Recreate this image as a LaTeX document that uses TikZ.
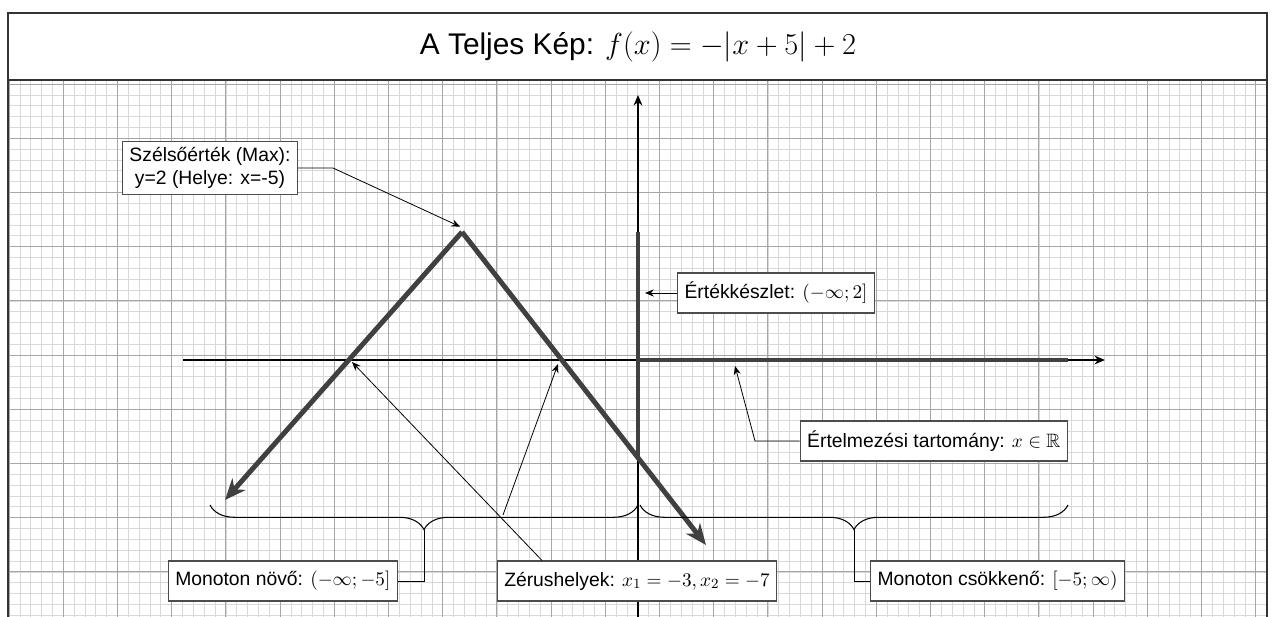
\documentclass[tikz,border=0pt]{standalone}
\usepackage{fontspec}
\setmainfont{Liberation Sans}
\usepackage{amssymb}
\usetikzlibrary{arrows.meta}
\usetikzlibrary{decorations.pathreplacing}

\begin{document}
\begin{tikzpicture}[x=0.02cm,y=-0.02cm,
   label box/.style={draw=black!70,fill=white,line width=0.6pt,inner xsep=4pt,minimum height=0.8cm,font=\fontsize{11}{13}\selectfont,align=center},
   graph line/.style={line width=2.8pt,draw=black!75},
   pointer/.style={-{Stealth[length=5pt,width=4pt]},line width=0.45pt},
   brace line/.style={decorate,decoration={brace,mirror,amplitude=14pt},line width=0.6pt}]
   % Border.
   \useasboundingbox (0,0) rectangle (1275,617);
   \fill[white] (0,0) rectangle (1275,617);
   % Grid.
   \begin{scope}
     \clip (8,80) rectangle (1267,617);
     \foreach \i in {0,...,116}
       \draw[black!15,line width=0.3pt] (9+10.84*\i,80) -- (9+10.84*\i,617);
     \foreach \i in {0,...,50}
       \draw[black!15,line width=0.3pt] (8,84+10.84*\i) -- (1267,84+10.84*\i);
     \foreach \i in {0,...,23}
       \draw[black!35,line width=0.4pt] (9+54.2*\i,80) -- (9+54.2*\i,617);
     \foreach \i in {0,...,10}
       \draw[black!35,line width=0.4pt] (8,84+54.2*\i) -- (1267,84+54.2*\i);
   \end{scope}
   \draw[black!80,line width=0.8pt] (8,640) -- (8,13) -- (1267,13) -- (1267,640);
   \draw[black!80,line width=0.8pt] (8,80) -- (1267,80);
   % Title.
   \node (title) at (638,47) {\fontsize{17}{20}\selectfont A Teljes Kép: $f(x)=-|x+5|+2$};
   % Axes.
   \coordinate (origin) at (638,360);
   \draw[-{Stealth[length=6pt,width=5pt]},line width=0.8pt] (183,360) -- (1105,360);
   \draw[-{Stealth[length=6pt,width=5pt]},line width=0.8pt] (638,617) -- (638,95);
   % Graph.
   \coordinate (peak) at (462,232);
   \coordinate (zero left) at (352,362);
   \coordinate (zero right) at (558,364);
   \draw[graph line,-{Stealth[length=12pt,width=10pt]}] (peak) -- (225,500);
   \draw[graph line,-{Stealth[length=12pt,width=10pt]}] (peak) -- (706,545);
   \draw[graph line] (638,232) -- (638,458);
   \draw[graph line] (origin) -- (1068,360);
   % Braces.
   \draw[brace line] (210,505) -- (638,505) coordinate[midway,yshift=-14pt] (inc tip);
   \draw[brace line] (640,505) -- (1068,505) coordinate[midway,yshift=-14pt] (dec tip);
   % Labels.
   \node[label box] (extremum) at (210,168) {Szélsőérték (Max):\\ y=2 (Helye: x=-5)};
   \node[label box,anchor=west] (range) at (677,293) {Értékkészlet: $(-\infty;2]$};
   \node[label box,anchor=east] (domain) at (1068,441) {Értelmezési tartomány: $x\in\mathbb{R}$};
   \node[label box,anchor=east] (increasing) at (398,581) {Monoton növő: $(-\infty;-5]$};
   \node[label box] (zeros) at (637,581) {Zérushelyek: $x_1=-3, x_2=-7$};
   \node[label box,anchor=west] (decreasing) at (870,581) {Monoton csökkenő: $[-5;\infty)$};
   % Connectors.
   \draw[pointer] (extremum.east) -- (333,168) -- ([xshift=-1pt,yshift=3pt]peak);
   \draw[pointer] (range.west) -- (645,293);
   \draw[pointer] (domain.west) -- (755,441) -- (735,366);
   \draw[line width=0.45pt] (inc tip) |- (increasing.east);
   \draw[line width=0.45pt] (dec tip) |- (decreasing.west);
   \draw[pointer] (zeros.north -| 542,0) -- (zero left);
   \draw[pointer] (503,515) -- (zero right);
\end{tikzpicture}
\end{document}
